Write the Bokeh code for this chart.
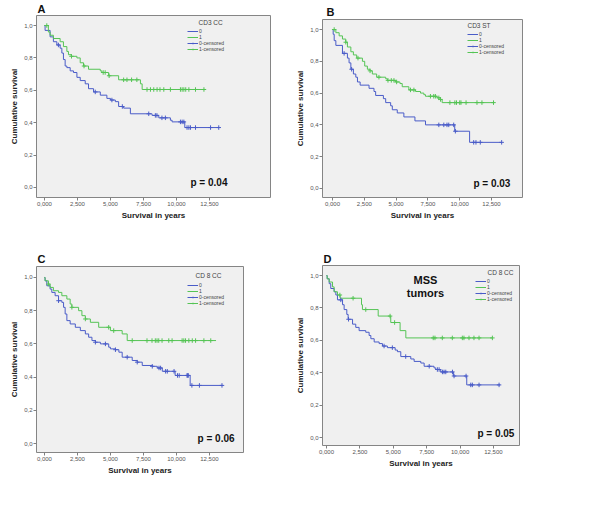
import numpy as np
from bokeh.plotting import figure
from bokeh.models import Legend, LegendItem, Label, Range1d, FixedTicker
from bokeh.layouts import row, column
from bokeh.embed import file_html
from bokeh.resources import INLINE

# ---------------- data ----------------
X_TICKS = [0, 2.5, 5, 7.5, 10, 12.5]
X_TICK_LABELS = ["0,000", "2,500", "5,000", "7,500", "10,000", "12,500"]
Y_TICKS = [0, 0.2, 0.4, 0.6, 0.8, 1]
Y_TICK_LABELS = ["0,0", "0,2", "0,4", "0,6", "0,8", "1,0"]
GROUPS = ["0", "1", "0-censored", "1-censored"]

# Panel A : CD3 CC
A_BLUE_T = [0.05, 0.43, 0.68, 0.94, 1.19, 1.32, 1.44, 1.57, 1.70, 1.95, 2.20, 2.46, 2.71, 3.09, 3.34, 3.72, 4.23, 4.73, 5.00, 5.37, 5.62, 6.00, 6.51, 8.15, 8.66, 9.54, 9.67, 10.63]
A_BLUE_S = [0.97, 0.93, 0.90, 0.88, 0.86, 0.83, 0.79, 0.75, 0.74, 0.72, 0.71, 0.68, 0.66, 0.64, 0.61, 0.59, 0.57, 0.55, 0.54, 0.53, 0.50, 0.49, 0.455, 0.445, 0.43, 0.415, 0.405, 0.37]
A_BLUE_END = 13.2
A_BLUE_C = [1.06, 3.85, 5.11, 5.9, 7.9, 8.4, 8.52, 8.9, 9.16, 10.3, 10.43, 10.56, 10.8, 10.94, 11.06, 11.44, 12.58, 13.2]
A_GREEN_T = [0.30, 0.43, 0.68, 1.19, 1.44, 1.70, 1.82, 2.03, 2.46, 2.71, 2.96, 3.34, 4.23, 4.35, 4.86, 5.62, 7.27, 7.40]
A_GREEN_S = [0.96, 0.94, 0.92, 0.90, 0.87, 0.84, 0.82, 0.81, 0.80, 0.77, 0.75, 0.73, 0.72, 0.71, 0.69, 0.665, 0.64, 0.605]
A_GREEN_END = 12.13
A_GREEN_C = [0.18, 2.05, 3.0, 4.45, 4.6, 4.9, 6.0, 6.25, 6.6, 7.0, 7.77, 8.03, 8.28, 8.53, 8.75, 9.04, 9.54, 10.3, 10.43, 10.56, 10.7, 10.94, 11.44, 12.08]

# Panel B : CD3 ST
B_BLUE_T = [0.05, 0.13, 0.26, 0.78, 1.17, 1.30, 1.44, 1.64, 1.83, 1.96, 2.17, 2.87, 3.26, 3.39, 4.00, 4.18, 4.57, 4.70, 5.09, 5.61, 6.48, 7.31, 9.61, 10.78]
B_BLUE_S = [0.97, 0.93, 0.90, 0.85, 0.82, 0.79, 0.75, 0.72, 0.70, 0.67, 0.65, 0.63, 0.61, 0.585, 0.565, 0.54, 0.52, 0.495, 0.475, 0.45, 0.425, 0.40, 0.36, 0.29]
B_BLUE_END = 13.3
B_BLUE_C = [0.91, 1.5, 8.36, 8.75, 9.0, 9.14, 9.53, 9.66, 11.1, 11.28, 11.62, 13.3]
B_GREEN_T = [0.26, 0.52, 0.78, 1.04, 1.17, 1.44, 1.64, 1.90, 2.35, 2.53, 2.74, 2.95, 3.13, 3.47, 4.18, 4.31, 4.96, 5.30, 5.48, 6.00, 6.53, 6.92, 7.18, 7.31, 8.22, 8.49, 8.62]
B_GREEN_S = [0.98, 0.96, 0.94, 0.92, 0.89, 0.86, 0.84, 0.82, 0.80, 0.77, 0.75, 0.74, 0.72, 0.70, 0.69, 0.68, 0.67, 0.66, 0.64, 0.62, 0.61, 0.60, 0.59, 0.58, 0.57, 0.56, 0.54]
B_GREEN_END = 12.72
B_GREEN_C = [0.13, 1.04, 2.0, 2.95, 3.65, 4.36, 4.62, 4.83, 5.04, 6.13, 6.40, 7.70, 7.96, 8.09, 8.36, 8.49, 9.23, 9.62, 9.75, 10.0, 10.1, 10.5, 11.36, 11.75, 12.66]

# Panel C : CD 8 CC
C_BLUE_T = [0.05, 0.18, 0.43, 0.56, 0.81, 1.07, 1.32, 1.45, 1.57, 1.70, 1.95, 2.34, 2.72, 3.10, 3.35, 3.60, 3.86, 4.24, 4.87, 5.00, 5.38, 5.64, 5.89, 6.65, 7.03, 7.41, 8.17, 8.55, 8.93, 9.90, 11.04]
C_BLUE_S = [0.98, 0.95, 0.93, 0.91, 0.89, 0.86, 0.85, 0.82, 0.78, 0.74, 0.72, 0.70, 0.68, 0.66, 0.64, 0.62, 0.61, 0.60, 0.58, 0.57, 0.565, 0.55, 0.52, 0.50, 0.49, 0.47, 0.465, 0.455, 0.435, 0.41, 0.35]
C_BLUE_END = 13.5
C_BLUE_C = [1.07, 3.86, 4.62, 5.38, 6.27, 7.03, 8.17, 8.68, 8.80, 9.18, 9.31, 9.82, 10.08, 10.21, 10.80, 10.85, 10.90, 11.17, 11.74, 13.45]
C_GREEN_T = [0.05, 0.30, 0.43, 0.68, 1.07, 1.32, 1.70, 1.95, 2.08, 2.59, 2.84, 3.10, 3.48, 4.11, 5.00, 5.89, 6.27]
C_GREEN_S = [0.98, 0.96, 0.94, 0.92, 0.91, 0.89, 0.87, 0.84, 0.82, 0.80, 0.77, 0.75, 0.73, 0.70, 0.68, 0.66, 0.62]
C_GREEN_END = 13.0
C_GREEN_C = [0.30, 2.08, 3.10, 4.87, 5.25, 6.65, 7.77, 8.15, 8.40, 8.53, 8.66, 8.91, 9.42, 9.67, 10.43, 10.56, 10.69, 10.94, 11.20, 11.45, 12.08, 12.6]

# Panel D : CD 8 CC (MSS tumors)
D_BLUE_T = [0.05, 0.20, 0.32, 0.57, 0.70, 0.82, 1.20, 1.32, 1.52, 1.62, 1.95, 2.19, 2.44, 2.94, 3.19, 3.32, 3.57, 3.94, 4.19, 4.56, 5.14, 5.31, 5.56, 6.31, 6.56, 7.06, 7.31, 8.05, 8.18, 8.55, 9.50, 10.50]
D_BLUE_S = [0.98, 0.95, 0.92, 0.90, 0.88, 0.85, 0.82, 0.79, 0.76, 0.73, 0.70, 0.68, 0.66, 0.65, 0.63, 0.61, 0.59, 0.58, 0.565, 0.555, 0.54, 0.53, 0.50, 0.485, 0.47, 0.46, 0.44, 0.43, 0.42, 0.405, 0.38, 0.325]
D_BLUE_END = 13.0
D_BLUE_C = [1.07, 1.65, 4.31, 4.93, 5.93, 7.69, 8.30, 8.43, 8.68, 8.80, 8.93, 9.43, 9.55, 10.45, 10.80, 10.92, 11.42, 12.92]
D_GREEN_T = [0.05, 0.20, 0.45, 0.57, 0.82, 1.02, 2.62, 2.69, 3.87, 4.81, 5.51, 5.94]
D_GREEN_S = [0.98, 0.96, 0.93, 0.90, 0.88, 0.86, 0.82, 0.79, 0.75, 0.71, 0.66, 0.615]
D_GREEN_END = 12.42
D_GREEN_C = [1.00, 1.99, 2.94, 4.76, 5.1, 7.99, 8.12, 8.67, 9.42, 10.17, 10.29, 10.67, 11.04, 11.42, 12.42]

TITLES = ["CD3 CC", "CD3 ST", "CD 8 CC", "CD 8 CC"]
LETTERS = ["A", "B", "C", "D"]
PVALUES = ["p = 0.04", "p = 0.03", "p = 0.06", "p = 0.05"]

# ---------------- style ----------------
BLUE = "#4a5cc8"
GREEN = "#55c455"
FONT = "Liberation Sans"


def step_xy(times, surv, end):
    """Kaplan-Meier step path (value holds until next event)."""
    t = [0.0] + list(times) + [end]
    s = [1.0] + list(surv)
    xs, ys = [t[0]], [s[0]]
    for i in range(1, len(t)):
        xs.append(t[i]); ys.append(s[i - 1])
        if i < len(s):
            xs.append(t[i]); ys.append(s[i])
    return xs, ys


def censor_y(times, surv, cens):
    t = np.array([0.0] + list(times))
    s = np.array([1.0] + list(surv))
    idx = np.searchsorted(t, np.array(cens), side="right") - 1
    return list(s[idx])


def panel(width, height, borders, xr, yr, blue, green, title, title_xy, legend_xy,
          letter, letter_offset, letter_standoff, pval, pval_xy, extra=None):
    bl, br, bt, bb = borders
    p = figure(width=width, height=height, x_range=Range1d(*xr), y_range=Range1d(*yr),
               output_backend="svg", toolbar_location=None,
               min_border_left=bl, min_border_right=br, min_border_top=bt, min_border_bottom=bb)
    p.background_fill_color = "#f0f0f0"
    p.border_fill_color = "white"
    p.outline_line_color = "#858585"
    p.outline_line_width = 1
    p.grid.visible = False

    p.title.text = letter
    p.title.align = "left"
    p.title.offset = letter_offset
    p.title.standoff = letter_standoff
    p.title.text_font = FONT
    p.title.text_font_size = "11px"
    p.title.text_font_style = "bold"
    p.title.text_color = "#111111"

    p.xaxis.ticker = FixedTicker(ticks=X_TICKS)
    p.xaxis.major_label_overrides = dict(zip(X_TICKS, X_TICK_LABELS))
    p.yaxis.ticker = FixedTicker(ticks=Y_TICKS)
    p.yaxis.major_label_overrides = dict(zip(Y_TICKS, Y_TICK_LABELS))
    p.xaxis.axis_label = "Survival in years"
    p.yaxis.axis_label = "Cumulative survival"
    for ax in (p.xaxis, p.yaxis):
        ax.axis_line_color = None
        ax.major_tick_out = 3
        ax.major_tick_in = 0
        ax.minor_tick_out = 0
        ax.minor_tick_in = 0
        ax.major_tick_line_color = "#808080"
        ax.major_label_text_font = FONT
        ax.major_label_text_font_size = "6px"
        ax.major_label_text_color = "#555555"
        ax.major_label_standoff = 1
        ax.axis_label_text_font = FONT
        ax.axis_label_text_font_size = "8px"
        ax.axis_label_text_font_style = "bold"
        ax.axis_label_text_color = "#222222"
        ax.axis_label_standoff = 2

    (bt_, bs_, be_, bc_) = blue
    (gt_, gs_, ge_, gc_) = green
    bx, by = step_xy(bt_, bs_, be_)
    gx, gy = step_xy(gt_, gs_, ge_)
    lb = p.line(bx, by, line_color=BLUE, line_width=1)
    lg = p.line(gx, gy, line_color=GREEN, line_width=1)
    cb = p.scatter(bc_, censor_y(bt_, bs_, bc_), marker="cross", size=4.5,
                   line_color=BLUE, line_width=1)
    cg = p.scatter(gc_, censor_y(gt_, gs_, gc_), marker="cross", size=4.5,
                   line_color=GREEN, line_width=1)

    legend = Legend(items=[
        LegendItem(label=GROUPS[0], renderers=[lb]),
        LegendItem(label=GROUPS[1], renderers=[lg]),
        LegendItem(label=GROUPS[2], renderers=[lb, cb]),
        LegendItem(label=GROUPS[3], renderers=[lg, cg]),
    ], location=legend_xy)
    legend.label_text_font = FONT
    legend.label_text_font_size = "5px"
    legend.label_text_color = "#444444"
    legend.label_height = 4
    legend.glyph_height = 4
    legend.glyph_width = 11
    legend.label_standoff = 1
    legend.spacing = 0
    legend.padding = 0
    legend.margin = 0
    legend.background_fill_alpha = 0
    legend.border_line_alpha = 0
    p.add_layout(legend)

    # legend heading
    p.add_layout(Label(x=title_xy[0], y=title_xy[1], text=title, text_font=FONT,
                       text_font_size="6.5px", text_color="#444444",
                       text_baseline="middle", text_align="left"))
    p.add_layout(Label(x=pval_xy[0], y=pval_xy[1], text=pval, text_font=FONT,
                       text_font_size="10px", text_font_style="bold", text_color="#111111",
                       text_baseline="middle", text_align="left"))
    if extra:
        for (ex, ey, et) in extra:
            p.add_layout(Label(x=ex, y=ey, text=et, text_font=FONT,
                               text_font_size="11px", text_font_style="bold",
                               text_color="#111111", text_baseline="middle",
                               text_align="center"))
    return p


pA = panel(290, 245, (36, 20, 15, 48), (-0.6, 17.12), (-0.062, 1.062),
           (A_BLUE_T, A_BLUE_S, A_BLUE_END, A_BLUE_C),
           (A_GREEN_T, A_GREEN_S, A_GREEN_END, A_GREEN_C),
           TITLES[0], (11.67, 1.018), (151, 145), LETTERS[0], 1, 1, PVALUES[0], (11.06, 0.03))
pB = panel(310, 245, (32, 78, 19, 48), (-0.79, 14.94), (-0.057, 1.063),
           (B_BLUE_T, B_BLUE_S, B_BLUE_END, B_BLUE_C),
           (B_GREEN_T, B_GREEN_S, B_GREEN_END, B_GREEN_C),
           TITLES[1], (10.61, 1.025), (145, 142), LETTERS[1], 4, 4, PVALUES[1], (11.08, 0.03))
pC = panel(288, 277, (36, 45, 21, 70), (-0.6, 15.08), (-0.054, 1.066),
           (C_BLUE_T, C_BLUE_S, C_BLUE_END, C_BLUE_C),
           (C_GREEN_T, C_GREEN_S, C_GREEN_END, C_GREEN_C),
           TITLES[2], (11.44, 1.012), (151, 146), LETTERS[2], 1, 3, PVALUES[2], (11.6, 0.03))
pD = panel(312, 277, (34, 81, 20, 77), (-0.3, 14.45), (-0.049, 1.062),
           (D_BLUE_T, D_BLUE_S, D_BLUE_END, D_BLUE_C),
           (D_GREEN_T, D_GREEN_S, D_GREEN_END, D_GREEN_C),
           TITLES[3], (12.05, 1.019), (153, 143), LETTERS[3], 1, 2, PVALUES[3], (11.3, 0.025),
           extra=[(7.41, 0.97, "MSS"), (7.41, 0.895, "tumors")])

# each figure wrapped in its own column so that frames are not aligned across panels
layout = column(row(column(pA), column(pB)), row(column(pC), column(pD)))
open("out.html", "w").write(file_html(layout, INLINE))
